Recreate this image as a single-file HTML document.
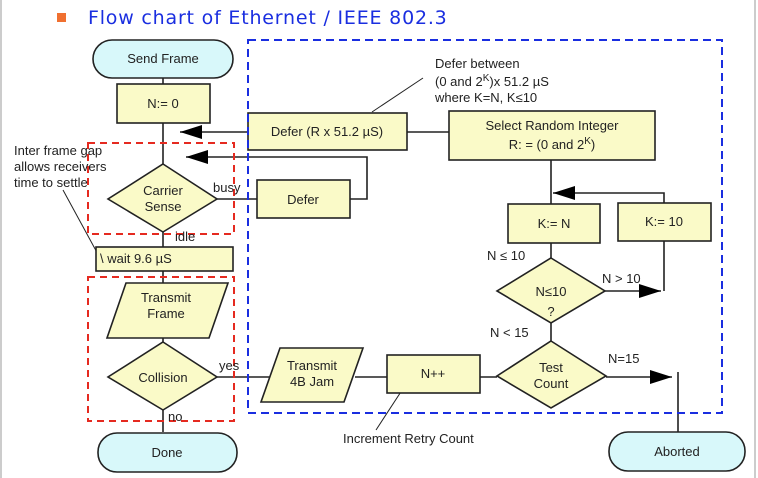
<!DOCTYPE html>
<html><head><meta charset="utf-8"><style>
html,body{margin:0;padding:0;background:#fff;width:758px;height:478px;overflow:hidden}
svg{display:block}
text{font-family:"Liberation Sans",sans-serif;font-size:13px;fill:#222}
</style></head><body>
<svg width="758" height="478" viewBox="0 0 758 478" xmlns="http://www.w3.org/2000/svg">
<defs>
<marker id="a" markerWidth="22" markerHeight="14" refX="22" refY="7" orient="auto" markerUnits="userSpaceOnUse"><path d="M0,0 L22,7 L0,14 Z" fill="#000"/></marker>
</defs>
<line x1="1" y1="0" x2="1" y2="478" stroke="#ccc" stroke-width="2"/>
<line x1="755" y1="0" x2="755" y2="478" stroke="#ccc" stroke-width="2"/>
<rect x="57" y="13" width="9" height="9" fill="#f07030"/>
<text x="88" y="24" style="font-size:19px;fill:#1a2ee0;font-family:'DejaVu Sans',sans-serif;letter-spacing:0.8px">Flow chart of Ethernet / IEEE 802.3</text>

<g stroke="#222" stroke-width="1.6" fill="none">
<line x1="163" y1="78" x2="163" y2="432"/>
<line x1="248" y1="132" x2="180" y2="132" marker-end="url(#a)"/>
<line x1="407" y1="132" x2="449" y2="132"/>
<line x1="217" y1="199" x2="257" y2="199"/>
<polyline points="350,199 367,199 367,157 186,157" marker-end="url(#a)"/>
<line x1="217" y1="377" x2="270" y2="377"/>
<line x1="355" y1="377" x2="387" y2="377"/>
<line x1="480" y1="377" x2="497" y2="377"/>
<line x1="606" y1="377" x2="672" y2="377" marker-end="url(#a)"/>
<line x1="678" y1="372" x2="678" y2="432"/>
<line x1="551" y1="160" x2="551" y2="204"/>
<polyline points="664,203 664,193 553,193" marker-end="url(#a)"/>
<line x1="551" y1="243" x2="551" y2="258"/>
<line x1="605" y1="291" x2="661" y2="291" marker-end="url(#a)"/>
<line x1="664" y1="241" x2="664" y2="291"/>
<line x1="551" y1="323" x2="551" y2="341"/>
<line x1="372" y1="112" x2="423" y2="78" stroke-width="1"/>
<line x1="63" y1="190" x2="100" y2="258" stroke-width="1"/>
<line x1="408" y1="381" x2="376" y2="430" stroke-width="1"/>
</g>

<g stroke="#222" stroke-width="1.6" fill="#fafac8">
<rect x="93" y="40" width="140" height="38" rx="19" fill="#d8f8fa"/>
<rect x="98" y="433" width="139" height="39" rx="19" fill="#d8f8fa"/>
<rect x="609" y="432" width="136" height="39" rx="19" fill="#d8f8fa"/>
<rect x="117" y="84" width="93" height="39"/>
<rect x="248" y="113" width="159" height="37"/>
<rect x="449" y="111" width="206" height="49"/>
<rect x="257" y="180" width="93" height="38"/>
<rect x="96" y="247" width="137" height="24"/>
<rect x="508" y="204" width="92" height="39"/>
<rect x="618" y="203" width="93" height="38"/>
<rect x="387" y="355" width="93" height="38"/>
<polygon points="163,164 217,199 163,232 108,199"/>
<polygon points="163,342 217,377 163,410 108,377"/>
<polygon points="551,341 606,376 551,408 497,376"/>
<polygon points="551,258 605,291 551,323 497,291"/>
<polygon points="126,283 228,283 209,338 107,338"/>
<polygon points="280,348 363,348 344,402 261,402"/>
</g>

<rect x="248" y="40" width="474" height="373" fill="none" stroke="#1a2ee0" stroke-width="2" stroke-dasharray="8,5"/>
<rect x="88" y="143" width="146" height="91" fill="none" stroke="#e52a20" stroke-width="2" stroke-dasharray="7,5"/>
<rect x="88" y="277" width="146" height="144" fill="none" stroke="#e52a20" stroke-width="2" stroke-dasharray="7,5"/>

<g text-anchor="middle">
<text x="163" y="63">Send Frame</text>
<text x="163" y="108">N:= 0</text>
<text x="327" y="136">Defer (R x 51.2 µS)</text>
<text x="552" y="130">Select Random Integer</text>
<text x="552" y="149">R: = (0 and 2<tspan dy="-5" font-size="10">K</tspan><tspan dy="5">)</tspan></text>
<text x="163" y="195">Carrier</text>
<text x="163" y="211">Sense</text>
<text x="303" y="204">Defer</text>
<text x="166" y="302">Transmit</text>
<text x="166" y="318">Frame</text>
<text x="163" y="382">Collision</text>
<text x="312" y="370">Transmit</text>
<text x="312" y="386">4B Jam</text>
<text x="433" y="378">N++</text>
<text x="551" y="372">Test</text>
<text x="551" y="388">Count</text>
<text x="554" y="228">K:= N</text>
<text x="664" y="226">K:= 10</text>
<text x="551" y="296" font-size="15">N≤10</text>
<text x="551" y="316" font-size="15">?</text>
<text x="167" y="457">Done</text>
<text x="677" y="456">Aborted</text>
</g>
<text x="100" y="263">\ wait  9.6 µS</text>
<text x="435" y="68">Defer between</text>
<text x="435" y="86">(0 and 2<tspan dy="-5" font-size="10">K</tspan><tspan dy="5">)x 51.2 µS</tspan></text>
<text x="435" y="102">where K=N, K≤10</text>
<text x="14" y="155">Inter frame gap</text>
<text x="14" y="171">allows receivers</text>
<text x="14" y="187">time to settle</text>
<text x="213" y="192">busy</text>
<text x="175" y="241">idle</text>
<text x="219" y="370">yes</text>
<text x="168" y="421">no</text>
<text x="487" y="260">N ≤ 10</text>
<text x="602" y="283">N &gt; 10</text>
<text x="490" y="337">N &lt; 15</text>
<text x="608" y="363">N=15</text>
<text x="343" y="443">Increment Retry Count</text>
</svg>
</body></html>
